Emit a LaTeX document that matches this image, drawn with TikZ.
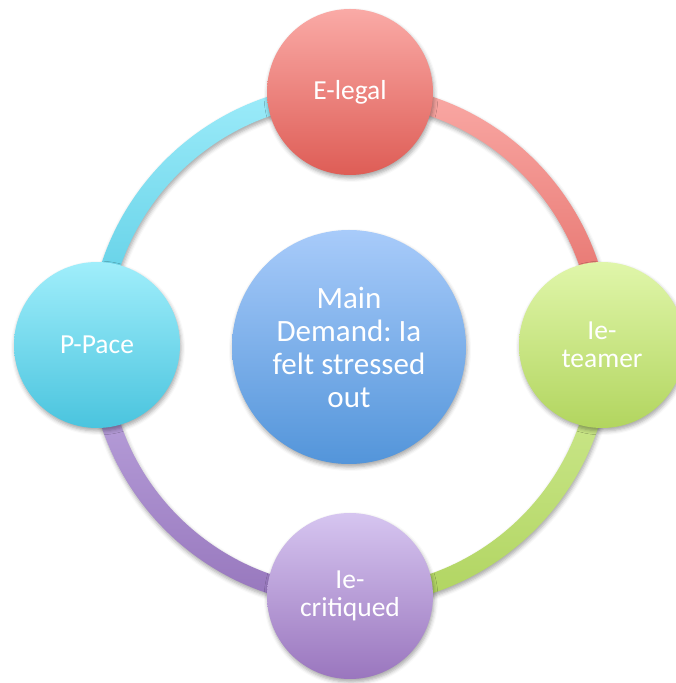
\documentclass[tikz,border=0pt]{standalone}
\usepackage{fontspec}
\setmainfont{Carlito}
\usetikzlibrary{shadows.blur}
\frenchspacing

% circle fills (top / bottom of each vertical gradient)
\definecolor{legTop}{RGB}{250,170,166}  \definecolor{legBot}{RGB}{222,93,86}
\definecolor{teaTop}{RGB}{224,246,170}  \definecolor{teaBot}{RGB}{178,213,95}
\definecolor{criTop}{RGB}{214,197,240}  \definecolor{criBot}{RGB}{154,118,190}
\definecolor{pacTop}{RGB}{160,238,251}  \definecolor{pacBot}{RGB}{74,196,222}
\definecolor{mainTop}{RGB}{168,203,250} \definecolor{mainBot}{RGB}{83,149,218}
% ring segments
\definecolor{arcRTop}{RGB}{250,170,166} \definecolor{arcRBot}{RGB}{226,104,98}
\definecolor{arcGTop}{RGB}{210,236,150} \definecolor{arcGBot}{RGB}{176,212,96}
\definecolor{arcPTop}{RGB}{192,170,226} \definecolor{arcPBot}{RGB}{150,118,188}
\definecolor{arcCTop}{RGB}{158,236,250} \definecolor{arcCBot}{RGB}{84,202,226}

\tikzset{
  soft/.style={blur shadow={shadow xshift=1pt, shadow yshift=-3pt,
      shadow blur radius=4pt, shadow opacity=35}},
  bubble/.style={circle, minimum size=166pt, inner sep=0pt, soft,
      text=white, align=center, font=\fontsize{27.5}{28}\selectfont},
  hub/.style={circle, minimum size=234pt, inner sep=0pt, soft,
      text=white, align=center, font=\fontsize{31}{33}\selectfont,
      top color=mainTop, bottom color=mainBot},
  ringseg/.style={soft}
}

\newcommand{\ringpart}[4]{% start angle, end angle, top colour, bottom colour
  \path[ringseg, top color=#3, bottom color=#4]
    ([shift={(#1:261.5pt)}]ctr) arc[start angle=#1, end angle=#2, radius=261.5pt]
    -- ([shift={(#2:242.5pt)}]ctr) arc[start angle=#2, end angle=#1, radius=242.5pt]
    -- cycle;}

\begin{document}
\begin{tikzpicture}[x=1pt,y=1pt]
  \useasboundingbox (0,0) rectangle (675,683);
  \coordinate (ctr) at (350,338);

  % ring, one quarter per colour
  \ringpart{90}{0}{arcRTop}{arcRBot}
  \ringpart{0}{-90}{arcGTop}{arcGBot}
  \ringpart{-90}{-180}{arcPTop}{arcPBot}
  \ringpart{180}{90}{arcCTop}{arcCBot}

  % outer bubbles
  \node[bubble, top color=legTop, bottom color=legBot] (legal) at (350,591) {E-legal};
  \node[bubble, top color=teaTop, bottom color=teaBot] (teamer) at (602,338) {Ie-\\teamer};
  \node[bubble, top color=criTop, bottom color=criBot] (critiqued) at (350,87) {Ie-\\critiqued};
  \node[bubble, top color=pacTop, bottom color=pacBot] (pace) at (97,338) {P-Pace};

  % central bubble
  \node[hub] (main) at (349,336) {Main\\Demand: Ia\\felt stressed\\out};
\end{tikzpicture}
\end{document}
